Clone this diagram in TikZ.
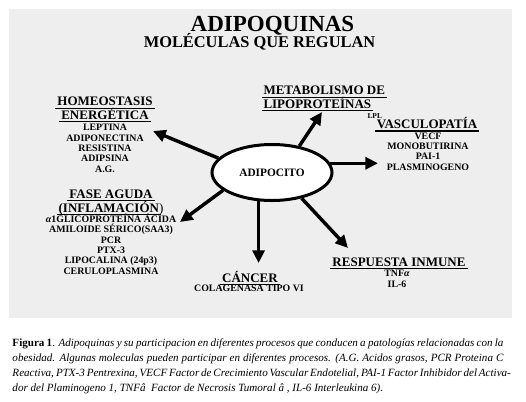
\documentclass[tikz,border=0pt]{standalone}
\usepackage{fontspec}
\setmainfont{Liberation Serif}
\usetikzlibrary{arrows.meta,shapes.geometric}
\definecolor{panelgray}{RGB}{238,238,238}
\newcommand{\hul}[1]{\leavevmode\setbox0=\hbox{#1}\rlap{\kern-1.5pt\smash{\rule[-2.4pt]{\dimexpr\wd0+3pt\relax}{1.1pt}}}\box0}
\lineskiplimit=-100pt
\tikzset{every picture/.style={line width=0.75pt}}

\begin{document}
\begin{tikzpicture}[x=0.75pt,y=0.75pt,yscale=-1,xscale=1,
  heading/.style={inner sep=0pt, align=center, font=\fontsize{9.75}{9.9}\selectfont\bfseries},
  items/.style={inner sep=0pt, align=center, font=\fontsize{7.4}{7.7}\selectfont\bfseries},
  capline/.style={anchor=base west, inner sep=0pt, font=\fontsize{8.3}{11}\selectfont},
  link/.style={line width=2.6pt, -{Triangle[length=9.5pt,width=9pt]}}]
\useasboundingbox (0,0) rectangle (526,401);

%Shape: Rectangle
\fill [panelgray] (9,9) rectangle (512,318);

% Text Node
\node (title) [anchor=base, inner sep=0pt, font=\fontsize{17.25}{17.25}\selectfont\bfseries] at (272.5,31.5) {ADIPOQUINAS};
% Text Node
\node (subtitle) [anchor=base, inner sep=0pt, font=\fontsize{12.3}{12.3}\selectfont\bfseries] at (259.5,47) {MOLÉCULAS QUE REGULAN};

%Shape: Ellipse
\node (adipocito) [ellipse, draw, line width=2.25pt, fill=white, minimum width=90pt, minimum height=42pt, inner sep=0pt, font=\fontsize{8.5}{8.5}\selectfont\bfseries] at (272,172.5) {ADIPOCITO};

% Text Node (base = last line)
\node (homeo) [heading, anchor=base] at (105,119) {\hul{HOMEOSTASIS}\\\hul{ENERGÉTICA}};
\node (homeo list) [items, anchor=base] at (105,172) {LEPTINA\\ADIPONECTINA\\RESISTINA\\ADIPSINA\\A.G.};
% Text Node
\node (metab) [heading, anchor=base west, align=left] at (263,108) {\hul{METABOLISMO DE}\\\hul{LIPOPROTEÍNAS}};
\node (lpl) [anchor=base west, inner sep=0pt, font=\fontsize{5.6}{5.6}\selectfont\bfseries] at (367,118) {LPL};
% Text Node
\node (vasc) [heading, anchor=base] at (427,128.5) {\hul{VASCULOPATÍA}};
\node (vasc list) [items, anchor=base] at (428,170) {VECF\\MONOBUTIRINA\\PAI-1\\PLASMINOGENO};
% Text Node
\node (fase) [heading, anchor=base] at (111,212) {\hul{FASE AGUDA}\\[0.6pt]\hul{(INFLAMACIÓN}{\mdseries)}};
\node (fase list) [items, anchor=base] at (111,274) {\textit{α}1GLICOPROTEÍNA ÁCIDA\\AMILOIDE SÉRICO(SAA3)\\PCR\\PTX-3\\LIPOCALINA (24p3)\\CERULOPLASMINA};
% Text Node
\node (cancer) [heading, anchor=base] at (250,282) {\hul{CÁNCER}};
\node (cancer list) [items, anchor=base] at (249,291.5) {COLAGENASA TIPO VI};
% Text Node
\node (inmune) [heading, anchor=base] at (399,266) {\hul{RESPUESTA INMUNE}};
\node (inmune list) [items, anchor=base] at (397,287) {TNF\textit{α}\\IL-6};

%Straight Lines
\coordinate (homeo tip) at (153,131);
\coordinate (metab tip) at (322,112);
\coordinate (vasc tip) at (378,164);
\coordinate (fase tip) at (180,222);
\coordinate (cancer tip) at (257,263);
\coordinate (inmune tip) at (348,248);
\draw [link] (adipocito.165) -- (homeo tip);
\draw [link] (adipocito.44) -- (metab tip);
\draw [link] (adipocito.9) -- (adipocito.9 -| vasc tip);
\draw [link] (adipocito.200) -- (fase tip);
\draw [link] (adipocito.245) -- (adipocito.245 |- cancer tip);
\draw [link] (adipocito.319) -- (inmune tip);

% Caption
\node (caption1) [capline] at (12,346) {\makebox[368.25pt][s]{\textbf{Figura 1}. \textit{Adipoquinas y su participacion en diferentes procesos que conducen a patologías relacionadas con la}}};
\node (caption2) [capline] at (12,361) {\makebox[368.25pt][s]{\textit{obesidad. Algunas moleculas pueden participar en diferentes procesos. (A.G. Acidos grasos, PCR Proteina C}}};
\node (caption3) [capline] at (12,376) {\makebox[368.25pt][s]{\textit{Reactiva, PTX-3 Pentrexina, VECF Factor de Crecimiento Vascular Endotelial, PAI-1 Factor Inhibidor del Activa-}}};
\node (caption4) [capline] at (12,391) {\textit{dor del Plaminogeno 1, TNFâ~ Factor de Necrosis Tumoral â , IL-6 Interleukina 6).}};

\end{tikzpicture}
\end{document}
